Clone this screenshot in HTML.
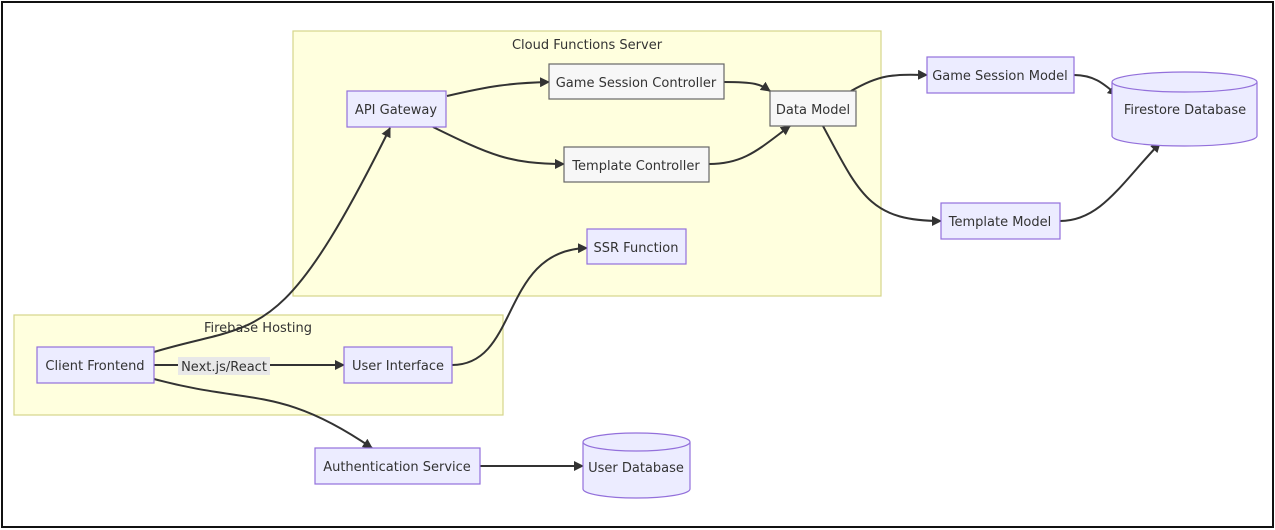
<!DOCTYPE html>
<html><head><meta charset="utf-8"><style>
html,body{margin:0;padding:0;background:#fff;width:1275px;height:530px;overflow:hidden}
text{font-family:"DejaVu Sans","Liberation Sans",sans-serif;font-size:13px;fill:#333}
</style></head><body>
<svg width="1275" height="530" viewBox="0 0 1275 530" xmlns="http://www.w3.org/2000/svg">
<defs><marker id="a" viewBox="0 0 10 10" refX="9" refY="5" markerWidth="5" markerHeight="5" orient="auto"><path d="M0,0L10,5L0,10z" fill="#333"/></marker></defs>
<rect x="2" y="2" width="1271" height="525" fill="#fff" stroke="#111" stroke-width="2"/>
<rect x="293" y="31" width="588" height="265" fill="#ffffde" stroke="#d6d68a" stroke-width="1.2"/>
<text x="587" y="49" text-anchor="middle">Cloud Functions Server</text>
<rect x="14" y="315" width="489" height="100" fill="#ffffde" stroke="#d6d68a" stroke-width="1.2"/>
<text x="258" y="332" text-anchor="middle">Firebase Hosting</text>
<g fill="none" stroke="#333" stroke-width="2" marker-end="url(#a)">
<path d="M447,96 C490,86 510,83 549,82"/>
<path d="M433,127 C490,155 510,164 564,164"/>
<path d="M724,82 C755,82 760,84 770,91"/>
<path d="M709,164 C745,164 760,148 790,126"/>
<path d="M851,91 C880,75 890,74 927,75"/>
<path d="M823,126 C860,195 870,221 941,221"/>
<path d="M1074,75 C1095,75 1105,85 1117,95"/>
<path d="M1060,221 C1100,221 1120,185 1160,143"/>
<path d="M154,352 C260,320 280,350 390,128"/>
<path d="M452,365 C520,365 500,250 587,248"/>
<path d="M154,365 L344,365"/>
<path d="M154,379 C250,405 280,385 372,448"/>
<path d="M480,466 L583,466"/>
</g>
<rect x="178" y="357" width="92" height="18" fill="#e8e8e8"/>
<text x="224" y="371" text-anchor="middle">Next.js/React</text>
<g stroke="#9370db" stroke-width="1.2" fill="#ececff">
<rect x="347" y="91" width="99" height="36"/>
<rect x="927" y="57" width="147" height="36"/>
<rect x="941" y="203" width="119" height="36"/>
<rect x="587" y="229" width="99" height="35"/>
<rect x="37" y="347" width="117" height="36"/>
<rect x="344" y="347" width="108" height="36"/>
<rect x="315" y="448" width="165" height="36"/>
<path d="M1112,82 a72.5,10 0 0 0 145,0 a72.5,10 0 0 0 -145,0 v54 a72.5,10 0 0 0 145,0 v-54"/>
<path d="M583,442 a53.5,9 0 0 0 107,0 a53.5,9 0 0 0 -107,0 v47 a53.5,9 0 0 0 107,0 v-47"/>
</g>
<g stroke="#666" stroke-width="1.2" fill="#f7f7f7">
<rect x="549" y="64" width="175" height="35"/>
<rect x="564" y="147" width="145" height="35"/>
<rect x="770" y="91" width="86" height="35"/>
</g>
<g text-anchor="middle">
<text x="396" y="114">API Gateway</text>
<text x="636" y="87">Game Session Controller</text>
<text x="636" y="170">Template Controller</text>
<text x="813" y="114">Data Model</text>
<text x="1000" y="80">Game Session Model</text>
<text x="1000" y="226">Template Model</text>
<text x="1185" y="114">Firestore Database</text>
<text x="636" y="252">SSR Function</text>
<text x="95" y="370">Client Frontend</text>
<text x="398" y="370">User Interface</text>
<text x="397" y="471">Authentication Service</text>
<text x="636" y="472">User Database</text>
</g>
</svg>
</body></html>
